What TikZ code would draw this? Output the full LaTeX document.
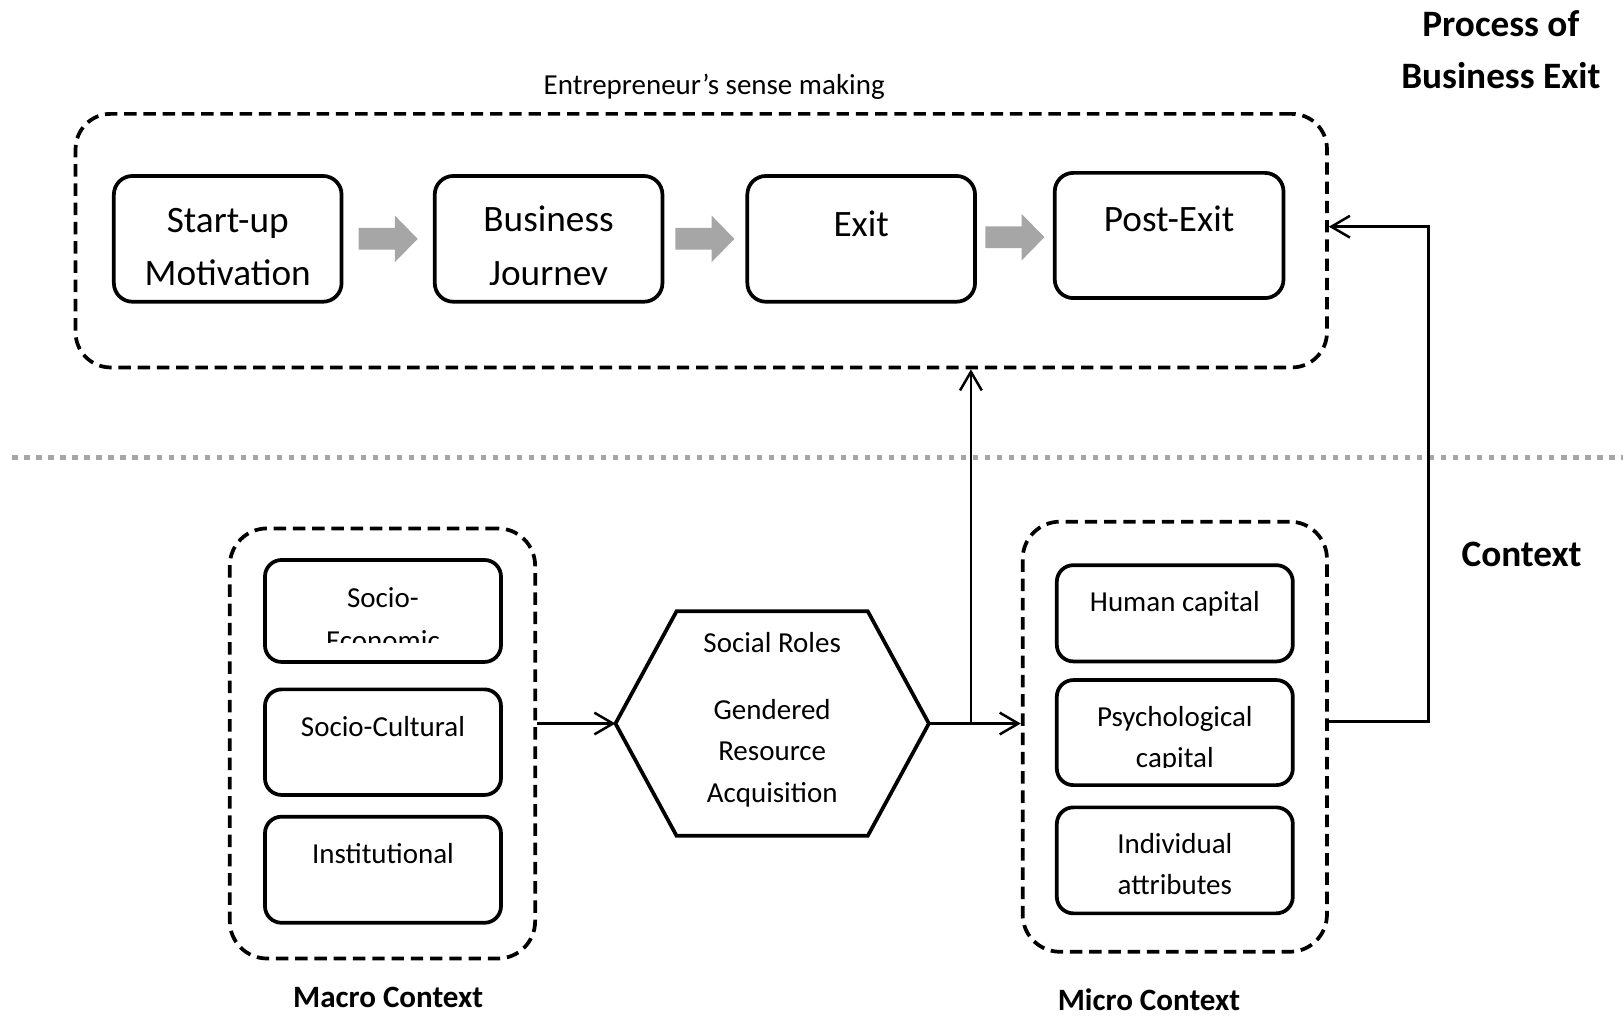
\documentclass[tikz,border=0pt]{standalone}
\usepackage{fontspec}
\setmainfont{Carlito}
\usetikzlibrary{arrows.meta,calc}
\definecolor{blockgray}{HTML}{A6A6A6}
\newcommand\grayarrow[1]{\fill[blockgray] ($(#1)+(-28.5,-10.5)$) -- ++(35,0) -- ++(0,-12) -- ++(22,22.5) -- ++(-22,22.5) -- ++(0,-12) -- ++(-35,0) -- cycle;}
\begin{document}
\begin{tikzpicture}[x=0.5pt,y=-0.5pt,
  box/.style={draw, line width=1.8pt, rounded corners=9pt, inner sep=0pt},
  sbox/.style={draw, line width=1.8pt, rounded corners=8pt, inner sep=0pt, minimum width=114pt},
  group/.style={draw, line width=1.8pt, dash pattern=on 6pt off 3.3pt, inner sep=0pt},
  tbig/.style={font=\fontsize{18}{22}\selectfont, inner sep=0pt, anchor=base},
  tsmall/.style={font=\fontsize{14}{17}\selectfont, inner sep=0pt, anchor=base},
  thead/.style={font=\bfseries\fontsize{18}{22}\selectfont, inner sep=0pt, anchor=base},
  tsub/.style={font=\bfseries\fontsize{15}{18}\selectfont, inner sep=0pt, anchor=base},
  conn/.style={line width=1.2pt, -{Straight Barb[length=9pt,width=10.5pt,line width=1.2pt]}},
  sep/.style={draw=blockgray, line width=2.6pt, dash pattern=on 2.5pt off 3.3pt}
]
\useasboundingbox (0,0) rectangle (1568,981);

% headings
\node[thead] (h1) at (1450,35.5) {Process of};
\node[thead] (h2) at (1450,85.5) {Business Exit};
\node[tsmall] (sm) at (690,91) {Entrepreneur’s sense making};
\node[thead] (ctx) at (1470,547) {Context};

% top process
\node[group, rounded corners=17pt, minimum width=604.5pt, minimum height=122.5pt] (top) at (677.5,232.5) {};
\node[box, minimum width=110pt, minimum height=60.75pt] (su) at (220,230.75) {};
\node[box, minimum width=110pt, minimum height=60.75pt] (bj) at (530,230.75) {};
\node[box, minimum width=110pt, minimum height=60.75pt] (ex) at (832,230.75) {};
\node[box, minimum width=110.5pt, minimum height=60.5pt] (pe) at (1129.5,227.5) {};

\node[tbig] (su1) at (220,224.5) {Start-up};
\begin{scope}
\clip (115,240) rectangle (325,275);
\node[tbig] (su2) at (220,275.5) {Motivation};
\end{scope}
\node[tbig] (bj1) at (530,223.5) {Business};
\begin{scope}
\clip (425,240) rectangle (635,275);
\node[tbig] (bj2) at (530,275.5) {Journey};
\end{scope}
\node[tbig] (ex1) at (832,228.5) {Exit};
\node[tbig] (pe1) at (1129.5,223.5) {Post-Exit};

\coordinate (g1) at ($(su.east)!0.5!(bj.west)$);
\coordinate (g2) at ($(bj.east)!0.5!(ex.west)$);
\coordinate (g3) at ($(ex.east)!0.5!(pe.west)$);
\grayarrow{g1}
\grayarrow{g2}
\grayarrow{g3}

% separator
\coordinate (sepL) at (12,442);
\coordinate (sepR) at (1568,442);
\draw[sep] (sepL) -- (sepR);

% macro context
\node[group, rounded corners=18pt, minimum width=147.5pt, minimum height=207.75pt] (macro) at (369.5,718.25) {};
\node[sbox, minimum height=49.25pt] (se) at (370,590.25) {};
\node[sbox, minimum height=51pt] (sc) at (370,717) {};
\node[sbox, minimum height=51.25pt] (in) at (370,840.25) {};
\node[tsmall] (se1) at (370,587) {Socio-};
\begin{scope}
\clip (260,600) rectangle (480,621);
\node[tsmall] (se2) at (370,628) {Economic};
\end{scope}
\node[tsmall] (sc1) at (370,712) {Socio-Cultural};
\node[tsmall] (in1) at (370,834.5) {Institutional};
\node[tsub] (mac) at (375,973.5) {Macro Context};

% hexagon
\node[inner sep=0pt, minimum width=151pt, minimum height=108pt] (hex) at (746,699) {};
\draw[line width=1.8pt, line join=miter] (hex.west) -- ($(hex.north west)+(59,0)$) -- ($(hex.north east)+(-59,0)$) -- (hex.east) -- ($(hex.south east)+(-59,0)$) -- ($(hex.south west)+(59,0)$) -- cycle;
\node[tsmall] (hx1) at (746,630.5) {Social Roles};
\node[tsmall] (hx2) at (746,695) {Gendered};
\node[tsmall] (hx3) at (746,734.5) {Resource};
\node[tsmall] (hx4) at (746,775) {Acquisition};

% micro context
\node[group, rounded corners=18pt, minimum width=147pt, minimum height=207.75pt] (micro) at (1135,711.75) {};
\node[sbox, minimum height=46.5pt] (hc) at (1135,592.5) {};
\node[sbox, minimum height=50.75pt] (pc) at (1135,707.75) {};
\node[sbox, minimum height=51.2pt] (ia) at (1135,831.2) {};
\node[tsmall] (hc1) at (1135,590.4) {Human capital};
\node[tsmall] (pc1) at (1135,701.5) {Psychological};
\begin{scope}
\clip (1025,710) rectangle (1245,741);
\node[tsmall] (pc2) at (1135,741.5) {capital};
\end{scope}
\node[tsmall] (ia1) at (1135,825) {Individual};
\node[tsmall] (ia2) at (1135,864.2) {attributes};
\node[tsub] (mic) at (1110,976) {Micro Context};

% connectors
\draw[conn] (macro.east |- hex.west) -- (hex.west);
\draw[conn] (hex.east) -- (micro.west |- hex.east);
\coordinate (jn) at (938,699);
\draw[conn] (jn) -- (jn |- top.south);
\coordinate (fb1) at (1380,697);
\coordinate (fbtop) at (1380,219);
\draw[conn] (micro.east |- fb1) -- (fb1) -- (fbtop) -- (top.east |- fbtop);
\end{tikzpicture}
\end{document}
